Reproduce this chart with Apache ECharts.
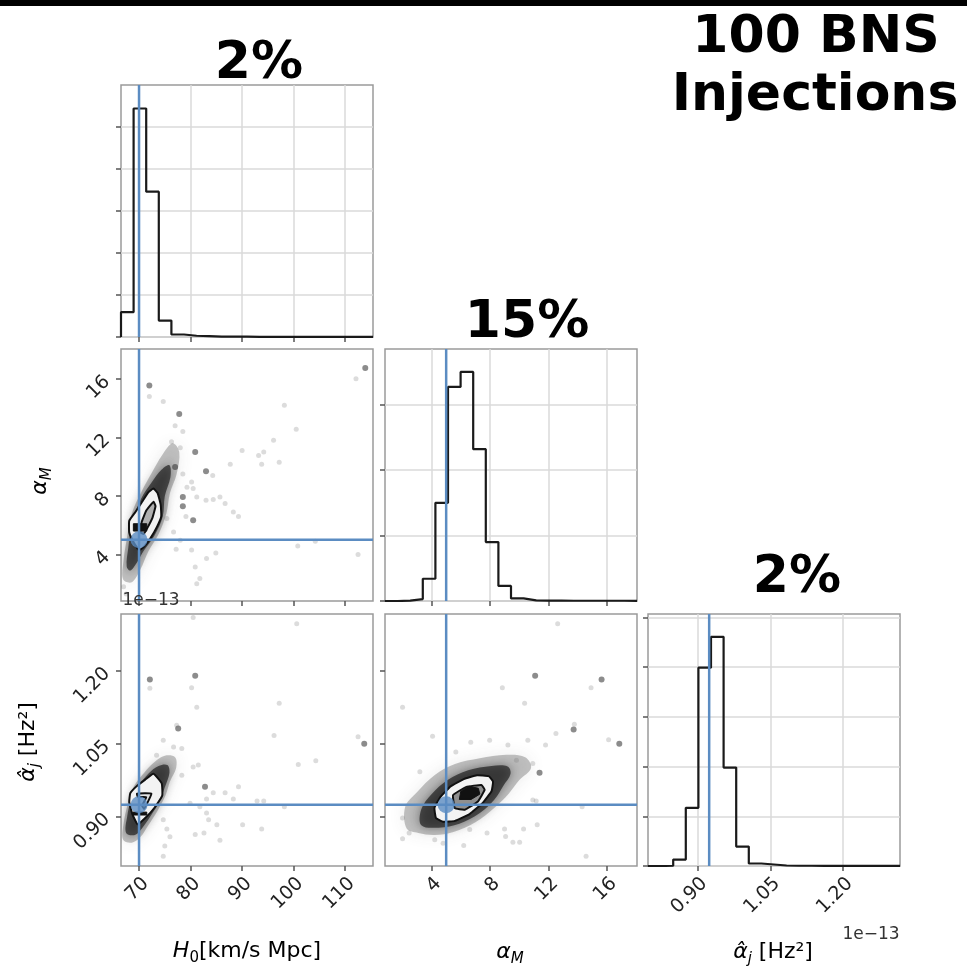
<!DOCTYPE html>
<html>
<head>
<meta charset="utf-8">
<script src="https://cdn.jsdelivr.net/npm/echarts@6/dist/echarts.min.js"></script>
<style>
  html, body { margin: 0; padding: 0; background: #ffffff; }
  #chart { width: 967px; height: 970px; }
</style>
</head>
<body>
<div id="chart"></div>
<script>
// ---- parameter ranges and ticks (alpha_j in units of 1e-13 Hz^2) ----
const h0Range = [66.5, 115.4];
const amRange = [0.82, 18.04];
const ajRange = [0.798, 1.317];
const h0Ticks = [70, 80, 90, 100, 110];
const amTicks = [4, 8, 12, 16];
const ajTicks = [0.90, 1.05, 1.20];
const truthH0 = 70;
const truthAm = 5;
const truthAj = 0.924;

// ---- 1D marginal histograms (20 bins across each range) ----
const h0Hist = [0.59, 5.44, 3.46, 0.39, 0.06, 0.03, 0.02, 0.01, 0.01, 0.01,
                0.005, 0.005, 0.005, 0.005, 0.005, 0.005, 0.005, 0.005, 0.005, 0.005];
const amHist = [0, 0.005, 0.03, 0.34, 1.50, 3.27, 3.50, 2.32, 0.90, 0.23,
                0.04, 0.01, 0.005, 0.005, 0.004, 0.004, 0.004, 0.004, 0.004, 0.003];
const ajHist = [0, 0.005, 0.13, 1.17, 3.99, 4.61, 1.98, 0.39, 0.05, 0.03,
                0.01, 0.005, 0.005, 0.004, 0.004, 0.004, 0.004, 0.003, 0.003, 0.003];
const h0HistTop = 6, amHistTop = 3.85, ajHistTop = 5.07;
const h0HistTicks = [0, 1, 2, 3, 4, 5];
const amHistTicks = [0, 1, 2, 3];
const ajHistTicks = [0, 1, 2, 3, 4, 5];

// ---- H0 vs alpha_M ----
const h0amCloud = [[66.9,2.3],[67.0,3.6],[67.6,5.0],[68.6,6.8],[70.5,8.3],[72.5,9.6],[74.5,10.8],[76.5,11.6],
                   [77.8,11.0],[77.3,9.5],[76.0,8.2],[75.3,6.8],[73.8,5.4],[71.8,4.2],[70.3,3.0],[68.6,2.1]];
const h0amDense = [[67.6,3.2],[67.9,4.4],[68.7,6.2],[70.4,7.8],[72.4,8.9],[74.4,9.8],[75.9,10.1],[76.1,9.3],
                   [75.0,8.0],[74.6,6.6],[73.0,5.3],[71.0,4.3],[69.5,3.4],[68.3,2.9]];
const h0amOuter = [[70.0,4.3],[69.0,4.8],[68.1,5.5],[68.1,6.3],[69.3,6.9],[70.6,7.6],[71.8,8.25],[72.8,8.5],
                   [73.6,8.2],[74.2,7.4],[74.3,6.6],[73.5,5.9],[72.2,5.1],[70.9,4.5]];
const h0amInner = [[70.3,5.5],[70.5,6.2],[71.4,7.0],[72.8,7.6],[73.2,7.3],[72.6,6.5],[71.6,5.8],[70.9,5.4]];
const h0amCore = [[68.9,5.6],[68.9,6.1],[71.5,6.1],[71.5,5.6]];
const h0amPoints = [
  [113.9,16.75,2],[112.1,16.0,1],[72.0,15.54,2],[72.0,14.8,1],[74.7,14.45,1],[77.8,13.6,2],[98.2,14.2,1],
  [100.5,12.55,1],[78.5,12.4,1],[76.3,11.7,1],[78.0,11.3,1],[80.9,11.0,2],[90.0,11.1,1],[93.2,10.77,1],
  [94.2,11.0,1],[93.8,10.16,1],[96.1,11.8,1],[97.2,10.3,1],[87.7,10.16,1],[77.0,9.97,2],[78.5,9.5,1],
  [83.0,9.68,2],[84.3,9.4,1],[80.2,8.95,1],[79.3,8.6,1],[80.5,8.5,1],[78.5,7.93,2],[81.2,7.93,1],
  [83.0,7.7,1],[84.4,7.75,1],[78.5,7.3,2],[85.7,7.93,1],[86.7,7.48,1],[88.3,6.9,1],[89.3,6.6,1],
  [79.1,6.6,1],[80.5,6.34,2],[75.4,6.45,1],[76.7,5.54,1],[78.0,4.97,1],[80.2,4.3,1],[83.1,3.73,1],
  [84.9,4.1,1],[80.9,3.15,1],[81.8,2.36,1],[81.2,2.0,1],[100.8,4.57,1],[104.2,4.9,1],[112.5,4.0,1],
  [77.2,4.35,1],[77.0,12.8,1],[67.0,1.8,1],[67.5,1.3,1]
];

// ---- H0 vs alpha_j ----
const h0ajCloud = [[66.9,0.852],[67.0,0.885],[67.8,0.925],[69.0,0.962],[71.0,0.99],[73.0,1.012],[75.0,1.025],
                   [77.0,1.022],[77.2,1.0],[76.0,0.972],[75.2,0.945],[73.6,0.912],[71.8,0.882],[70.3,0.858],[68.6,0.846]];
const h0ajDense = [[67.5,0.866],[67.7,0.9],[68.5,0.935],[69.9,0.962],[71.8,0.988],[73.8,1.004],[75.5,1.006],
                   [75.9,0.99],[75.0,0.96],[74.0,0.932],[72.5,0.905],[70.8,0.879],[69.2,0.862]];
const h0ajOuter = [[69.7,0.884],[68.7,0.905],[68.1,0.93],[68.3,0.948],[69.5,0.962],[71.2,0.976],[72.8,0.988],
                   [74.4,0.968],[74.5,0.943],[73.0,0.918],[71.3,0.898]];
const h0ajInner = [[69.6,0.947],[72.4,0.947],[71.0,0.916],[70.6,0.922],[71.4,0.940],[69.8,0.940]];
const h0ajCore = [[68.8,0.903],[68.8,0.909],[71.5,0.909],[71.5,0.903]];
const h0ajPoints = [
  [100.6,1.297,1],[80.5,1.31,1],[72.1,1.182,2],[72.1,1.164,1],[80.9,1.190,2],[80.2,1.165,1],[81.2,1.125,1],
  [97.2,1.133,1],[96.2,1.067,1],[112.5,1.064,1],[113.7,1.050,2],[100.9,1.007,1],[104.3,1.015,1],
  [77.6,1.081,2],[77.3,1.088,1],[74.7,1.057,1],[76.7,1.043,1],[78.3,1.040,1],[73.4,1.026,1],[80.5,1.002,1],
  [81.5,1.006,1],[78.3,0.985,1],[82.8,0.961,2],[83.1,0.936,1],[84.4,0.949,1],[86.7,0.949,1],[89.3,0.961,1],
  [88.3,0.936,1],[92.9,0.932,1],[94.2,0.932,1],[98.2,0.920,1],[79.9,0.927,1],[81.8,0.920,1],[74.7,0.893,1],
  [75.4,0.874,1],[76.0,0.858,1],[75.0,0.839,1],[74.7,0.818,1],[80.9,0.863,1],[82.6,0.866,1],[83.5,0.893,1],
  [85.1,0.883,1],[85.7,0.851,1],[90.1,0.883,1],[93.8,0.874,1],[83.1,0.907,1]
];

// ---- alpha_M vs alpha_j ----
const amajCloud = [[2.3,0.875],[2.2,0.92],[3.0,0.95],[4.2,0.985],[5.6,1.008],[7.3,1.02],[9.1,1.027],[10.4,1.022],
                   [10.8,1.0],[10.0,0.975],[9.3,0.948],[8.3,0.918],[7.0,0.888],[5.5,0.868],[4.2,0.862],[3.1,0.866]];
const amajDense = [[3.3,0.882],[3.3,0.915],[4.0,0.946],[5.1,0.975],[6.5,0.995],[8.1,1.004],[9.2,1.003],[9.4,0.988],
                   [8.9,0.963],[8.3,0.935],[7.3,0.907],[5.9,0.885],[4.5,0.877]];
const amajOuter = [[4.3,0.897],[4.2,0.918],[4.6,0.94],[5.3,0.962],[6.2,0.977],[7.1,0.985],[7.9,0.983],[8.2,0.972],
                   [8.1,0.952],[7.5,0.928],[6.6,0.905],[5.6,0.891],[4.8,0.889]];
const amajMiddle = [[5.47,0.944],[6.38,0.961],[7.41,0.965],[7.63,0.955],[7.17,0.931],[6.27,0.914],[5.59,0.917]];
const amajCore = [[5.9,0.935],[6.0,0.952],[6.6,0.962],[7.2,0.958],[7.3,0.946],[6.7,0.935]];
const amajPoints = [
  [12.62,1.297,1],[2.02,1.125,1],[11.08,1.190,2],[15.62,1.182,2],[14.9,1.165,1],[8.84,1.165,1],[10.36,1.133,1],
  [13.71,1.079,2],[13.76,1.090,1],[16.83,1.050,2],[16.1,1.058,1],[4.07,1.065,1],[6.68,1.053,1],[7.97,1.057,1],
  [9.22,1.047,1],[10.58,1.057,1],[11.79,1.047,1],[12.5,1.071,1],[5.66,1.033,1],[11.38,0.990,2],[10.92,1.009,1],
  [3.2,0.992,1],[10.92,0.934,1],[11.15,0.932,1],[14.29,0.920,1],[2.02,0.854,1],[2.47,0.866,1],[2.02,0.897,1],
  [6.2,0.840,1],[6.61,0.873,1],[7.79,0.866,1],[8.99,0.874,1],[9.06,0.859,1],[9.56,0.847,1],[10.02,0.847,1],
  [10.29,0.874,1],[11.22,0.883,1],[14.56,0.818,1],[4.22,0.852,1],[4.79,0.845,1],[9.8,1.016,1]
];

// ---- layout ----
const colLeft = [121, 385, 648];
const rowTop = [85, 349, 614];
const panel = 252;
const BLUE = '#5b8cc2';
const FONT = 'DejaVu Sans';

const grids = [
  [0, 0], [0, 1], [1, 1], [0, 2], [1, 2], [2, 2]
].map(([c, r]) => ({
  left: colLeft[c], top: rowTop[r], width: panel, height: panel,
  show: true, borderColor: '#9a9a9a', borderWidth: 1.5, backgroundColor: '#ffffff'
}));

function axis(gi, range, ticks, o) {
  const a = {
    type: 'value', gridIndex: gi, min: range[0], max: range[1],
    axisLine: { show: false },
    axisTick: { show: true, inside: false, length: 5, customValues: ticks,
                lineStyle: { color: '#555', width: 1.5 } },
    splitLine: { show: !!o.grid, lineStyle: { color: '#dadada', width: 1.5 } },
    axisLabel: { show: !!o.labels }
  };
  if (o.labels) {
    a.axisLabel = {
      show: true, customValues: ticks, rotate: 45, fontFamily: FONT, fontSize: 19, color: '#222',
      formatter: o.fmt || (v => String(v)),
      align: 'right', verticalAlign: o.dir === 'x' ? 'top' : 'middle',
      margin: o.dir === 'x' ? 8 : 14,
      showMinLabel: true, showMaxLabel: true
    };
  }
  return a;
}
const fmt2 = v => v.toFixed(2);

const xAxis = [
  axis(0, h0Range, h0Ticks, { grid: true }),
  axis(1, h0Range, h0Ticks, {}),
  axis(2, amRange, amTicks, { grid: true }),
  axis(3, h0Range, h0Ticks, { labels: true, dir: 'x' }),
  axis(4, amRange, amTicks, { labels: true, dir: 'x' }),
  axis(5, ajRange, ajTicks, { grid: true, labels: true, dir: 'x', fmt: fmt2 })
];
const yAxis = [
  axis(0, [0, h0HistTop], h0HistTicks, { grid: true }),
  axis(1, amRange, amTicks, { labels: true, dir: 'y' }),
  axis(2, [0, amHistTop], amHistTicks, { grid: true }),
  axis(3, ajRange, ajTicks, { labels: true, dir: 'y', fmt: fmt2 }),
  axis(4, ajRange, ajTicks, {}),
  axis(5, [0, ajHistTop], ajHistTicks, { grid: true })
];

// step outline of a histogram, bins spread evenly across the axis range
function stepOutline(range, counts) {
  const w = (range[1] - range[0]) / counts.length;
  const pts = [[range[0], 0]];
  counts.forEach((c, i) => {
    pts.push([range[0] + i * w, c]);
    pts.push([range[0] + (i + 1) * w, c]);
  });
  pts.push([range[1], 0]);
  return pts;
}

function histSeries(gi, range, counts) {
  return {
    type: 'line', xAxisIndex: gi, yAxisIndex: gi, data: stepOutline(range, counts),
    symbol: 'none', silent: true, z: 3, animation: false,
    lineStyle: { color: '#1a1a1a', width: 2.2 }
  };
}

function vLine(gi, x, yr) {
  return { type: 'line', xAxisIndex: gi, yAxisIndex: gi, data: [[x, yr[0]], [x, yr[1]]],
           symbol: 'none', silent: true, z: 8, animation: false,
           lineStyle: { color: BLUE, width: 2.5 } };
}
function hLine(gi, y, xr) {
  return { type: 'line', xAxisIndex: gi, yAxisIndex: gi, data: [[xr[0], y], [xr[1], y]],
           symbol: 'none', silent: true, z: 8, animation: false,
           lineStyle: { color: BLUE, width: 2.5 } };
}

// filled outlines (density cloud, contour levels) drawn through the axes
function shapes(gi, list, z) {
  return {
    type: 'custom', xAxisIndex: gi, yAxisIndex: gi, z: z, silent: true, animation: false,
    clip: true,
    data: list.map((s, i) => i),
    renderItem: (params, api) => {
      const s = list[params.dataIndex];
      return {
        type: 'polygon',
        shape: { points: s.pts.map(p => api.coord(p)), smooth: s.smooth || 0 },
        style: { fill: s.fill || 'none', stroke: s.stroke || 'none', lineWidth: s.lw || 0,
                 shadowBlur: s.blur || 0, shadowColor: s.blur ? s.fill : 'transparent',
                 opacity: s.op == null ? 1 : s.op }
      };
    }
  };
}

function scatterPts(gi, pts) {
  return {
    type: 'scatter', xAxisIndex: gi, yAxisIndex: gi, data: pts, z: 4, silent: true, animation: false,
    symbolSize: d => d[2] === 2 ? 6 : 5,
    itemStyle: { color: p => p.data[2] === 2 ? 'rgba(50,50,50,0.7)' : 'rgba(110,110,110,0.3)' }
  };
}
function truthPoint(gi, x, y) {
  return { type: 'scatter', xAxisIndex: gi, yAxisIndex: gi, data: [[x, y]], z: 9, silent: true,
           animation: false, symbolSize: 17, itemStyle: { color: BLUE } };
}

function panelShapes(cloud, dense, outer, inner, core, innerFill) {
  return [
    { pts: cloud, fill: 'rgba(70,70,70,0.32)', blur: 16, smooth: 0.35 },
    { pts: dense, fill: 'rgba(25,25,25,0.66)', blur: 10, smooth: 0.35 },
    { pts: outer, fill: '#f3f3f3', stroke: '#111', lw: 2, smooth: 0.12 },
    { pts: inner, fill: innerFill, stroke: '#111', lw: 2, smooth: 0.1 },
    { pts: core, fill: '#111', stroke: '#111', lw: 1 }
  ];
}

const series = [
  histSeries(0, h0Range, h0Hist),
  vLine(0, truthH0, [0, h0HistTop]),
  histSeries(2, amRange, amHist),
  vLine(2, truthAm, [0, amHistTop]),
  histSeries(5, ajRange, ajHist),
  vLine(5, truthAj, [0, ajHistTop]),

  shapes(1, panelShapes(h0amCloud, h0amDense, h0amOuter, h0amInner, h0amCore, '#b0b0b0'), 2),
  scatterPts(1, h0amPoints),
  vLine(1, truthH0, amRange), hLine(1, truthAm, h0Range), truthPoint(1, truthH0, truthAm),

  shapes(3, panelShapes(h0ajCloud, h0ajDense, h0ajOuter, h0ajInner, h0ajCore, '#e2e2e2'), 2),
  scatterPts(3, h0ajPoints),
  vLine(3, truthH0, ajRange), hLine(3, truthAj, h0Range), truthPoint(3, truthH0, truthAj),

  shapes(4, panelShapes(amajCloud, amajDense, amajOuter, amajMiddle, amajCore, '#8f8f8f'), 2),
  scatterPts(4, amajPoints),
  vLine(4, truthAm, ajRange), hLine(4, truthAj, amRange), truthPoint(4, truthAm, truthAj)
];

// ---- text: headings, axis names, offsets ----
function txt(x, y, text, font, extra) {
  return Object.assign({ type: 'text', x: x, y: y, silent: true, z: 20,
    style: Object.assign({ text: text, font: font, fill: '#000', align: 'center', verticalAlign: 'middle' },
      extra && extra.style || {}) }, extra && extra.el || {});
}
const bigFont = 'bold 52px "DejaVu Sans"';
const nameRich = {
  i: { fontFamily: FONT, fontStyle: 'italic', fontSize: 22, color: '#222' },
  s: { fontFamily: FONT, fontStyle: 'italic', fontSize: 15, color: '#222', padding: [14, 0, 0, 0] },
  n: { fontFamily: FONT, fontSize: 22, color: '#222' },
  d: { fontFamily: FONT, fontSize: 15, color: '#222', padding: [14, 0, 0, 0] }
};
function nameText(x, y, text, rot) {
  return { type: 'text', x: x, y: y, rotation: rot || 0, silent: true, z: 20,
    style: { text: text, rich: nameRich, align: 'center', verticalAlign: 'middle' } };
}

const graphic = [
  { type: 'rect', shape: { x: 0, y: 0, width: 967, height: 6 }, style: { fill: '#000' }, silent: true },
  txt(259, 64, '2%', bigFont),
  txt(527, 323, '15%', bigFont),
  txt(797, 578, '2%', bigFont),
  txt(816, 38, '100 BNS', bigFont),
  txt(815, 96, 'Injections', bigFont),
  nameText(247, 951, '{i|H}{d|0}{n|[km/s Mpc]}'),
  nameText(510, 952, '{i|α}{s|M}'),
  nameText(773, 952, '{i|α̂}{s|j}{n| [Hz²]}'),
  nameText(40, 481, '{i|α}{s|M}', Math.PI / 2),
  nameText(28, 742, '{i|α̂}{s|j}{n| [Hz²]}', Math.PI / 2),
  txt(151, 601, '1e−13', '17px "DejaVu Sans"', { style: { fill: '#333' } }),
  txt(871, 935, '1e−13', '17px "DejaVu Sans"', { style: { fill: '#333' } })
];

const chart = echarts.init(document.getElementById('chart'), null, { renderer: 'canvas' });
chart.setOption({
  animation: false,
  backgroundColor: '#ffffff',
  grid: grids,
  xAxis: xAxis,
  yAxis: yAxis,
  series: series,
  graphic: graphic
});
</script>
</body>
</html>
